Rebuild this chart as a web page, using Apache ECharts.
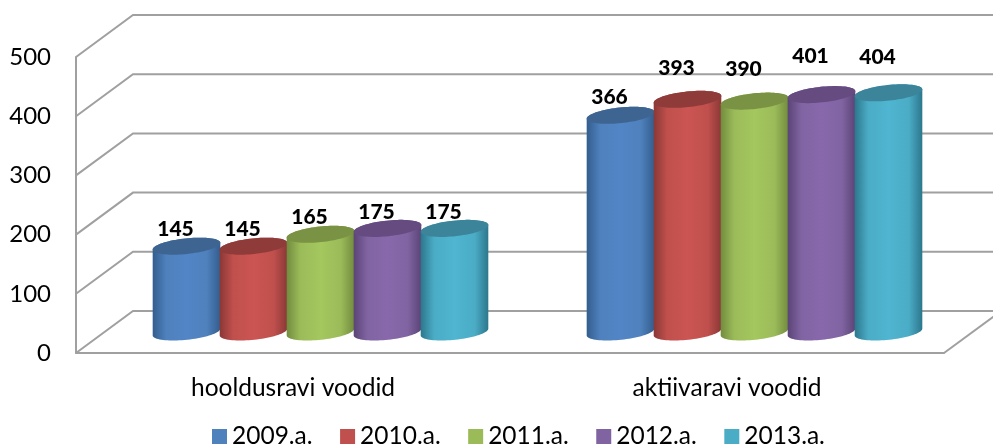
<!DOCTYPE html>
<html>
<head>
    <meta charset="utf-8">
    <style type="text/css">
        html,body { margin: 0px; padding: 0px; background: #fff; }
        #canvas1 { width: 993px; height: 444px; }
    </style>
    <script src="https://cdn.jsdelivr.net/npm/echarts@6/dist/echarts.min.js"></script>
</head>
<body>
    <div id="canvas1"></div>
    <script type="text/javascript">
        // data
        var categories = ['hooldusravi voodid', 'aktiivaravi voodid'];
        var years = ['2009.a.', '2010.a.', '2011.a.', '2012.a.', '2013.a.'];
        var values2009 = [145, 366];
        var values2010 = [145, 393];
        var values2011 = [165, 390];
        var values2012 = [175, 401];
        var values2013 = [175, 404];
        var yTicks = [0, 100, 200, 300, 400, 500];

        // colours per year
        var legendColors = ['#4f81bd', '#c0504d', '#9bbb59', '#8064a2', '#4bacc6'];
        var midColors = ['#5285c6', '#cb5552', '#a4c75e', '#8868ab', '#4fb5d0'];
        var edgeColors = ['#335d8e', '#8a3836', '#728c3e', '#5b4476', '#2c778c'];
        var topColors = ['#3e6592', '#8f3b39', '#7a9243', '#654b80', '#3b8499'];

        // label lift above the cylinder top (the original has hand moved labels)
        var labelLift = [[17, 18], [17, 31], [17, 32], [16, 38], [16, 36]];
        var labelShift = -11;

        // 3d look
        var depthX = 57, depthY = -42;
        var barRatio = 67 / 434;
        var rx = 34, ry = 7.8, tilt = 6 * Math.PI / 180;
        var lineColor = '#a0a0a0';
        var font = 'Lato';

        function ellipsePoint(cx, cy, t) {
            var a = rx * Math.cos(t), b = ry * Math.sin(t);
            return [cx + a * Math.cos(tilt) + b * Math.sin(tilt), cy - a * Math.sin(tilt) + b * Math.cos(tilt)];
        }

        function renderCylinder(params, api) {
            var idx = params.seriesIndex - 1;
            var cat = api.value(0), val = api.value(1);
            var band = api.size([1, 0])[0];
            var w = band * barRatio;
            var top = api.coord([cat, val]);
            var base = api.coord([cat, 0]);
            var cx = top[0] + depthX / 2 - 1 + (idx - 2) * w;
            var yTop = top[1] + depthY / 2;
            var yBase = base[1] + depthY / 2;
            var body = [], cap = [];
            var i, t, steps = 40;
            for (i = 0; i <= steps; i++) {   // lower edge of the base
                t = Math.PI * i / steps;
                body.push(ellipsePoint(cx, yBase, t));
            }
            for (i = 0; i <= steps; i++) {   // upper edge of the top
                t = Math.PI + Math.PI * i / steps;
                body.push(ellipsePoint(cx, yTop, t));
            }
            for (i = 0; i < steps * 2; i++) {
                cap.push(ellipsePoint(cx, yTop, Math.PI * i / steps));
            }
            return {
                type: 'group',
                children: [{
                    type: 'polygon',
                    shape: { points: body },
                    style: {
                        fill: {
                            type: 'linear', x: 0, y: 0, x2: 1, y2: 0,
                            colorStops: [
                                { offset: 0, color: edgeColors[idx] },
                                { offset: 0.2, color: legendColors[idx] },
                                { offset: 0.5, color: midColors[idx] },
                                { offset: 0.8, color: legendColors[idx] },
                                { offset: 1, color: edgeColors[idx] }
                            ]
                        }
                    }
                }, {
                    type: 'polygon',
                    shape: { points: cap },
                    style: { fill: topColors[idx] }
                }, {
                    type: 'text',
                    z2: 50,
                    style: {
                        x: cx + labelShift,
                        y: yTop - labelLift[idx][cat],
                        text: String(val),
                        fill: '#000',
                        font: '900 21px ' + font,
                        align: 'center',
                        verticalAlign: 'middle'
                    }
                }]
            };
        }

        function renderWall(params, api) {
            var rect = params.coordSys;
            var y = api.coord([0, api.value(1)])[1];
            var x0 = rect.x, xr = rect.x + rect.width;
            var kids = [{
                type: 'polyline',
                shape: { points: [[x0, y], [x0 + depthX, y + depthY], [xr + depthX, y + depthY]] },
                style: { stroke: lineColor, lineWidth: 2, fill: null }
            }];
            if (api.value(1) === 0) {
                kids.push({
                    type: 'line',
                    shape: { x1: xr, y1: y, x2: xr + depthX, y2: y + depthY },
                    style: { stroke: lineColor, lineWidth: 2 }
                });
            }
            return { type: 'group', children: kids };
        }

        function cylinderSeries(i, values) {
            return {
                name: years[i],
                type: 'custom',
                renderItem: renderCylinder,
                itemStyle: { color: legendColors[i] },
                encode: { x: 0, y: 1 },
                data: values.map(function (v, c) { return [c, v]; })
            };
        }

        var myChart1 = echarts.init(document.getElementById('canvas1'));

        var option1 = {
            animation: false,
            grid: { left: 76, right: 49, top: 57, bottom: 91 },
            legend: {
                data: years,
                left: 212, top: 424,
                padding: 0,
                icon: 'rect',
                itemWidth: 15, itemHeight: 15, itemGap: 27.5,
                textStyle: { fontFamily: font, fontSize: 24.5, color: '#000' }
            },
            xAxis: {
                type: 'category',
                data: categories,
                axisTick: { show: false },
                axisLine: { lineStyle: { color: lineColor, width: 2 } },
                axisLabel: { fontFamily: font, fontSize: 24.5, color: '#000', margin: 23 }
            },
            yAxis: {
                type: 'value',
                min: 0, max: 500, interval: 100,
                splitLine: { show: false },
                axisTick: { show: false },
                axisLine: { show: true, lineStyle: { color: lineColor, width: 2 } },
                axisLabel: { fontFamily: font, fontSize: 24, color: '#000', margin: 25, padding: [4, 0, 0, 0] }
            },
            series: [{
                type: 'custom',
                name: 'wall',
                renderItem: renderWall,
                silent: true,
                encode: { y: 1 },
                data: yTicks.map(function (v) { return [0, v]; })
            },
            cylinderSeries(0, values2009),
            cylinderSeries(1, values2010),
            cylinderSeries(2, values2011),
            cylinderSeries(3, values2012),
            cylinderSeries(4, values2013)]
        };

        myChart1.setOption(option1);
    </script>
</body>
</html>
